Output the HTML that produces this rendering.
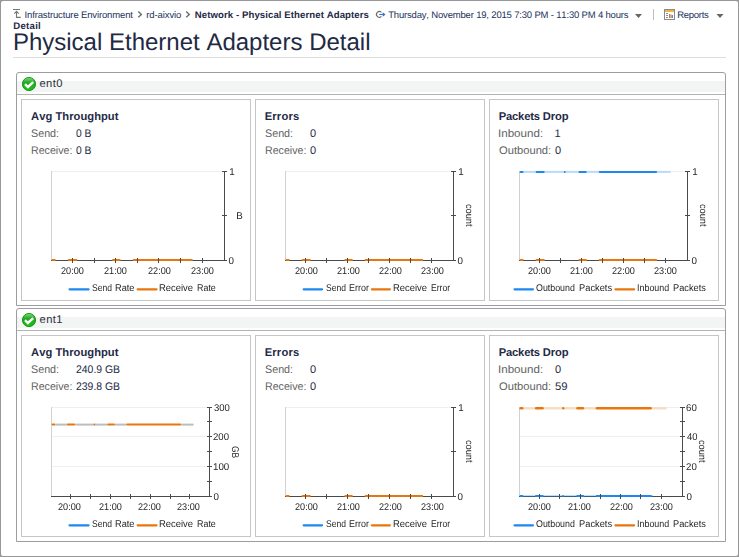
<!DOCTYPE html>
<html><head><meta charset="utf-8"><style>
html,body{margin:0;padding:0;}
body{width:739px;height:557px;background:#979797;overflow:hidden;position:relative;font-family:"Liberation Sans",sans-serif;font-kerning:none;text-rendering:geometricPrecision;}
.pg{position:absolute;left:1px;top:1px;width:737px;height:555px;background:#fff;border-radius:2px;}
.t{position:absolute;white-space:pre;line-height:20px;}
.a{position:absolute;}
svg{position:absolute;left:0;top:0;}
.gl{position:absolute;left:0;top:0;width:739px;height:557px;will-change:transform;}
</style></head><body><div class="pg"></div>
<div class="t" style="left:24.52px;top:6px;font-size:9.50px;color:#22335a;letter-spacing:-0.140px;">Infrastructure Environment</div>
<div class="t" style="left:146.27px;top:6px;font-size:9.50px;color:#22335a;letter-spacing:-0.096px;">rd-aixvio</div>
<div class="t" style="left:194.76px;top:6px;font-size:9.60px;color:#1e2a46;font-weight:bold;letter-spacing:0.085px;">Network - Physical Ethernet Adapters</div>
<div class="t" style="left:388.19px;top:6px;font-size:9.50px;color:#22335a;letter-spacing:-0.178px;">Thursday, November 19, 2015 7:30 PM - 11:30 PM 4 hours</div>
<div class="t" style="left:677.22px;top:6px;font-size:9.50px;color:#22335a;letter-spacing:-0.274px;">Reports</div>
<div class="t" style="left:13.26px;top:17px;font-size:9.60px;color:#1e2a46;font-weight:bold;letter-spacing:0.276px;">Detail</div>
<div class="t" style="left:12.93px;top:33px;font-size:24.00px;color:#1f2a44;letter-spacing:0.002px;">Physical Ethernet Adapters Detail</div>
<div class="a" style="left:13px;top:57px;width:713px;height:1px;background:#dedede;"></div>
<div class="a" style="left:16px;top:72px;width:710px;height:234px;box-sizing:border-box;border:1px solid #9b9da3;border-radius:3px 3px 0 0;"></div>
<div class="a" style="left:17px;top:81px;width:708px;height:11px;background:#f3f4f4;"></div>
<div class="a" style="left:17px;top:94px;width:708px;height:1px;background:#b4b4b4;"></div>
<div class="t" style="left:39.52px;top:74px;font-size:11.20px;color:#2b2f3a;letter-spacing:0.372px;">ent0</div>
<div class="a" style="left:21px;top:99px;width:230px;height:202px;box-sizing:border-box;border:1px solid #c6c6c6;"></div>
<div class="a" style="left:255px;top:99px;width:230px;height:202px;box-sizing:border-box;border:1px solid #c6c6c6;"></div>
<div class="a" style="left:489px;top:99px;width:230px;height:202px;box-sizing:border-box;border:1px solid #c6c6c6;"></div>
<div class="a" style="left:16px;top:308px;width:710px;height:234px;box-sizing:border-box;border:1px solid #9b9da3;border-radius:3px 3px 0 0;"></div>
<div class="a" style="left:17px;top:317px;width:708px;height:11px;background:#f3f4f4;"></div>
<div class="a" style="left:17px;top:330px;width:708px;height:1px;background:#b4b4b4;"></div>
<div class="t" style="left:39.52px;top:310px;font-size:11.20px;color:#2b2f3a;letter-spacing:0.408px;">ent1</div>
<div class="a" style="left:21px;top:335px;width:230px;height:202px;box-sizing:border-box;border:1px solid #c6c6c6;"></div>
<div class="a" style="left:255px;top:335px;width:230px;height:202px;box-sizing:border-box;border:1px solid #c6c6c6;"></div>
<div class="a" style="left:489px;top:335px;width:230px;height:202px;box-sizing:border-box;border:1px solid #c6c6c6;"></div>
<div class="t" style="left:31.12px;top:107px;font-size:11.20px;color:#1e2a46;font-weight:bold;letter-spacing:0.025px;">Avg Throughput</div>
<div class="t" style="left:30.91px;top:124px;font-size:11.00px;color:#626262;transform:scaleX(0.9764);transform-origin:0 0;">Send:</div>
<div class="t" style="left:75.80px;top:124px;font-size:11.00px;color:#1e2a46;transform:scaleX(0.9354);transform-origin:0 0;">0 B</div>
<div class="t" style="left:30.53px;top:141px;font-size:11.00px;color:#626262;transform:scaleX(0.9684);transform-origin:0 0;">Receive:</div>
<div class="t" style="left:75.80px;top:141px;font-size:11.00px;color:#1e2a46;transform:scaleX(0.9354);transform-origin:0 0;">0 B</div>
<div class="t" style="left:264.65px;top:107px;font-size:11.20px;color:#1e2a46;font-weight:bold;letter-spacing:0.198px;">Errors</div>
<div class="t" style="left:264.91px;top:124px;font-size:11.00px;color:#626262;transform:scaleX(0.9764);transform-origin:0 0;">Send:</div>
<div class="t" style="left:309.97px;top:124px;font-size:11.00px;color:#1e2a46;">0</div>
<div class="t" style="left:264.53px;top:141px;font-size:11.00px;color:#626262;transform:scaleX(0.9684);transform-origin:0 0;">Receive:</div>
<div class="t" style="left:309.97px;top:141px;font-size:11.00px;color:#1e2a46;">0</div>
<div class="t" style="left:498.65px;top:107px;font-size:11.20px;color:#1e2a46;font-weight:bold;letter-spacing:-0.152px;">Packets Drop</div>
<div class="t" style="left:498.33px;top:124px;font-size:11.00px;color:#626262;transform:scaleX(1.0540);transform-origin:0 0;">Inbound:</div>
<div class="t" style="left:554.56px;top:124px;font-size:11.00px;color:#1e2a46;">1</div>
<div class="t" style="left:498.87px;top:141px;font-size:11.00px;color:#626262;transform:scaleX(1.0151);transform-origin:0 0;">Outbound:</div>
<div class="t" style="left:554.97px;top:141px;font-size:11.00px;color:#1e2a46;">0</div>
<div class="t" style="left:31.12px;top:343px;font-size:11.20px;color:#1e2a46;font-weight:bold;letter-spacing:0.025px;">Avg Throughput</div>
<div class="t" style="left:30.91px;top:360px;font-size:11.00px;color:#626262;transform:scaleX(0.9764);transform-origin:0 0;">Send:</div>
<div class="t" style="left:75.58px;top:360px;font-size:11.00px;color:#1e2a46;transform:scaleX(0.9483);transform-origin:0 0;">240.9 GB</div>
<div class="t" style="left:30.53px;top:377px;font-size:11.00px;color:#626262;transform:scaleX(0.9684);transform-origin:0 0;">Receive:</div>
<div class="t" style="left:75.58px;top:377px;font-size:11.00px;color:#1e2a46;transform:scaleX(0.9483);transform-origin:0 0;">239.8 GB</div>
<div class="t" style="left:264.65px;top:343px;font-size:11.20px;color:#1e2a46;font-weight:bold;letter-spacing:0.198px;">Errors</div>
<div class="t" style="left:264.91px;top:360px;font-size:11.00px;color:#626262;transform:scaleX(0.9764);transform-origin:0 0;">Send:</div>
<div class="t" style="left:309.97px;top:360px;font-size:11.00px;color:#1e2a46;">0</div>
<div class="t" style="left:264.53px;top:377px;font-size:11.00px;color:#626262;transform:scaleX(0.9684);transform-origin:0 0;">Receive:</div>
<div class="t" style="left:309.97px;top:377px;font-size:11.00px;color:#1e2a46;">0</div>
<div class="t" style="left:498.65px;top:343px;font-size:11.20px;color:#1e2a46;font-weight:bold;letter-spacing:-0.152px;">Packets Drop</div>
<div class="t" style="left:498.33px;top:360px;font-size:11.00px;color:#626262;transform:scaleX(1.0540);transform-origin:0 0;">Inbound:</div>
<div class="t" style="left:554.97px;top:360px;font-size:11.00px;color:#1e2a46;">0</div>
<div class="t" style="left:498.87px;top:377px;font-size:11.00px;color:#626262;transform:scaleX(1.0151);transform-origin:0 0;">Outbound:</div>
<div class="t" style="left:554.95px;top:377px;font-size:11.00px;color:#1e2a46;transform:scaleX(1.0289);transform-origin:0 0;">59</div>
<div class="gl"><div class="t" style="left:60.59px;top:262px;font-size:9.80px;color:#262626;transform:scaleX(0.9303);transform-origin:0 0;">20:00</div>
<div class="t" style="left:104.34px;top:262px;font-size:9.80px;color:#262626;transform:scaleX(0.9303);transform-origin:0 0;">21:00</div>
<div class="t" style="left:147.64px;top:262px;font-size:9.80px;color:#262626;transform:scaleX(0.9303);transform-origin:0 0;">22:00</div>
<div class="t" style="left:190.54px;top:262px;font-size:9.80px;color:#262626;transform:scaleX(0.9303);transform-origin:0 0;">23:00</div>
<div class="t" style="left:229.25px;top:163px;font-size:9.80px;color:#262626;">1</div>
<div class="t" style="left:228.52px;top:252px;font-size:9.80px;color:#262626;">0</div>
<div class="t" style="left:236.20px;top:207px;font-size:9.80px;color:#262626;">B</div>
<div class="t" style="left:91.51px;top:279px;font-size:9.80px;color:#262626;transform:scaleX(0.8711);transform-origin:0 0;">Send</div>
<div class="t" style="left:114.94px;top:279px;font-size:9.80px;color:#262626;transform:scaleX(0.9403);transform-origin:0 0;">Rate</div>
<div class="t" style="left:159.13px;top:279px;font-size:9.80px;color:#262626;transform:scaleX(0.9629);transform-origin:0 0;">Receive</div>
<div class="t" style="left:197.27px;top:279px;font-size:9.80px;color:#262626;transform:scaleX(0.9095);transform-origin:0 0;">Rate</div>
<div class="t" style="left:294.74px;top:262px;font-size:9.80px;color:#262626;transform:scaleX(0.9303);transform-origin:0 0;">20:00</div>
<div class="t" style="left:336.54px;top:262px;font-size:9.80px;color:#262626;transform:scaleX(0.9303);transform-origin:0 0;">21:00</div>
<div class="t" style="left:378.64px;top:262px;font-size:9.80px;color:#262626;transform:scaleX(0.9303);transform-origin:0 0;">22:00</div>
<div class="t" style="left:420.54px;top:262px;font-size:9.80px;color:#262626;transform:scaleX(0.9303);transform-origin:0 0;">23:00</div>
<div class="t" style="left:458.25px;top:163px;font-size:9.80px;color:#262626;">1</div>
<div class="t" style="left:457.52px;top:252px;font-size:9.80px;color:#262626;">0</div>
<div class="t" style="left:477.80px;top:203.61px;font-size:9.80px;color:#262626;transform:rotate(90deg) scaleX(0.9367);transform-origin:0 0;">count</div>
<div class="t" style="left:325.51px;top:279px;font-size:9.80px;color:#262626;transform:scaleX(0.8711);transform-origin:0 0;">Send</div>
<div class="t" style="left:348.97px;top:279px;font-size:9.80px;color:#262626;transform:scaleX(0.9130);transform-origin:0 0;">Error</div>
<div class="t" style="left:393.13px;top:279px;font-size:9.80px;color:#262626;transform:scaleX(0.9629);transform-origin:0 0;">Receive</div>
<div class="t" style="left:431.30px;top:279px;font-size:9.80px;color:#262626;transform:scaleX(0.8746);transform-origin:0 0;">Error</div>
<div class="t" style="left:528.34px;top:262px;font-size:9.80px;color:#262626;transform:scaleX(0.9303);transform-origin:0 0;">20:00</div>
<div class="t" style="left:570.44px;top:262px;font-size:9.80px;color:#262626;transform:scaleX(0.9303);transform-origin:0 0;">21:00</div>
<div class="t" style="left:612.24px;top:262px;font-size:9.80px;color:#262626;transform:scaleX(0.9303);transform-origin:0 0;">22:00</div>
<div class="t" style="left:654.24px;top:262px;font-size:9.80px;color:#262626;transform:scaleX(0.9303);transform-origin:0 0;">23:00</div>
<div class="t" style="left:692.25px;top:163px;font-size:9.80px;color:#262626;">1</div>
<div class="t" style="left:691.52px;top:252px;font-size:9.80px;color:#262626;">0</div>
<div class="t" style="left:711.60px;top:203.61px;font-size:9.80px;color:#262626;transform:rotate(90deg) scaleX(0.9367);transform-origin:0 0;">count</div>
<div class="t" style="left:536.38px;top:279px;font-size:9.80px;color:#262626;transform:scaleX(0.9034);transform-origin:0 0;">Outbound</div>
<div class="t" style="left:579.04px;top:279px;font-size:9.80px;color:#262626;transform:scaleX(0.9495);transform-origin:0 0;">Packets</div>
<div class="t" style="left:637.08px;top:279px;font-size:9.80px;color:#262626;transform:scaleX(0.9089);transform-origin:0 0;">Inbound</div>
<div class="t" style="left:673.14px;top:279px;font-size:9.80px;color:#262626;transform:scaleX(0.9436);transform-origin:0 0;">Packets</div>
<div class="t" style="left:58.44px;top:498px;font-size:9.80px;color:#262626;transform:scaleX(0.9303);transform-origin:0 0;">20:00</div>
<div class="t" style="left:98.74px;top:498px;font-size:9.80px;color:#262626;transform:scaleX(0.9303);transform-origin:0 0;">21:00</div>
<div class="t" style="left:137.94px;top:498px;font-size:9.80px;color:#262626;transform:scaleX(0.9303);transform-origin:0 0;">22:00</div>
<div class="t" style="left:177.44px;top:498px;font-size:9.80px;color:#262626;transform:scaleX(0.9303);transform-origin:0 0;">23:00</div>
<div class="t" style="left:213.54px;top:399px;font-size:9.80px;color:#262626;transform:scaleX(0.9715);transform-origin:0 0;">300</div>
<div class="t" style="left:213.42px;top:428px;font-size:9.80px;color:#262626;transform:scaleX(0.9790);transform-origin:0 0;">200</div>
<div class="t" style="left:213.16px;top:458px;font-size:9.80px;color:#262626;transform:scaleX(0.9953);transform-origin:0 0;">100</div>
<div class="t" style="left:213.52px;top:488px;font-size:9.80px;color:#262626;">0</div>
<div class="t" style="left:244.00px;top:445.58px;font-size:9.80px;color:#262626;transform:rotate(90deg) scaleX(0.8593);transform-origin:0 0;">GB</div>
<div class="t" style="left:91.51px;top:515px;font-size:9.80px;color:#262626;transform:scaleX(0.8711);transform-origin:0 0;">Send</div>
<div class="t" style="left:114.94px;top:515px;font-size:9.80px;color:#262626;transform:scaleX(0.9403);transform-origin:0 0;">Rate</div>
<div class="t" style="left:159.13px;top:515px;font-size:9.80px;color:#262626;transform:scaleX(0.9629);transform-origin:0 0;">Receive</div>
<div class="t" style="left:197.27px;top:515px;font-size:9.80px;color:#262626;transform:scaleX(0.9095);transform-origin:0 0;">Rate</div>
<div class="t" style="left:294.74px;top:498px;font-size:9.80px;color:#262626;transform:scaleX(0.9303);transform-origin:0 0;">20:00</div>
<div class="t" style="left:336.54px;top:498px;font-size:9.80px;color:#262626;transform:scaleX(0.9303);transform-origin:0 0;">21:00</div>
<div class="t" style="left:378.64px;top:498px;font-size:9.80px;color:#262626;transform:scaleX(0.9303);transform-origin:0 0;">22:00</div>
<div class="t" style="left:420.54px;top:498px;font-size:9.80px;color:#262626;transform:scaleX(0.9303);transform-origin:0 0;">23:00</div>
<div class="t" style="left:458.25px;top:399px;font-size:9.80px;color:#262626;">1</div>
<div class="t" style="left:457.52px;top:488px;font-size:9.80px;color:#262626;">0</div>
<div class="t" style="left:477.80px;top:439.61px;font-size:9.80px;color:#262626;transform:rotate(90deg) scaleX(0.9367);transform-origin:0 0;">count</div>
<div class="t" style="left:325.51px;top:515px;font-size:9.80px;color:#262626;transform:scaleX(0.8711);transform-origin:0 0;">Send</div>
<div class="t" style="left:348.97px;top:515px;font-size:9.80px;color:#262626;transform:scaleX(0.9130);transform-origin:0 0;">Error</div>
<div class="t" style="left:393.13px;top:515px;font-size:9.80px;color:#262626;transform:scaleX(0.9629);transform-origin:0 0;">Receive</div>
<div class="t" style="left:431.30px;top:515px;font-size:9.80px;color:#262626;transform:scaleX(0.8746);transform-origin:0 0;">Error</div>
<div class="t" style="left:527.54px;top:498px;font-size:9.80px;color:#262626;transform:scaleX(0.9303);transform-origin:0 0;">20:00</div>
<div class="t" style="left:568.24px;top:498px;font-size:9.80px;color:#262626;transform:scaleX(0.9303);transform-origin:0 0;">21:00</div>
<div class="t" style="left:609.94px;top:498px;font-size:9.80px;color:#262626;transform:scaleX(0.9303);transform-origin:0 0;">22:00</div>
<div class="t" style="left:649.64px;top:498px;font-size:9.80px;color:#262626;transform:scaleX(0.9303);transform-origin:0 0;">23:00</div>
<div class="t" style="left:686.41px;top:399px;font-size:9.80px;color:#262626;transform:scaleX(0.9880);transform-origin:0 0;">60</div>
<div class="t" style="left:686.68px;top:428px;font-size:9.80px;color:#262626;transform:scaleX(0.9618);transform-origin:0 0;">40</div>
<div class="t" style="left:686.41px;top:458px;font-size:9.80px;color:#262626;transform:scaleX(0.9875);transform-origin:0 0;">20</div>
<div class="t" style="left:686.52px;top:488px;font-size:9.80px;color:#262626;">0</div>
<div class="t" style="left:711.40px;top:439.61px;font-size:9.80px;color:#262626;transform:rotate(90deg) scaleX(0.9367);transform-origin:0 0;">count</div>
<div class="t" style="left:536.38px;top:515px;font-size:9.80px;color:#262626;transform:scaleX(0.9034);transform-origin:0 0;">Outbound</div>
<div class="t" style="left:579.04px;top:515px;font-size:9.80px;color:#262626;transform:scaleX(0.9495);transform-origin:0 0;">Packets</div>
<div class="t" style="left:637.08px;top:515px;font-size:9.80px;color:#262626;transform:scaleX(0.9089);transform-origin:0 0;">Inbound</div>
<div class="t" style="left:673.14px;top:515px;font-size:9.80px;color:#262626;transform:scaleX(0.9436);transform-origin:0 0;">Packets</div></div>
<svg width="739" height="557" viewBox="0 0 739 557"><defs><linearGradient id="gg" x1="0" y1="0" x2="0" y2="1"><stop offset="0" stop-color="#7edc7e"/><stop offset="0.4" stop-color="#1faa1f"/><stop offset="1" stop-color="#16c416"/></linearGradient></defs>
<path d="M13 9.5H20" stroke="#777" stroke-width="1" fill="none"/>
<path d="M14.3 13.7L16.5 11.4L18.7 13.7M16.5 11.6V17.4H20.8" stroke="#777" stroke-width="1.1" fill="none"/>
<path d="M138.3 11.5L141.4 14.4L138.3 17.3" stroke="#6a6a6a" stroke-width="1.35" fill="none"/>
<path d="M186.2 11.5L189.3 14.4L186.2 17.3" stroke="#6a6a6a" stroke-width="1.35" fill="none"/>
<path d="M381.4 12.3A2.9 2.9 0 1 0 381.4 16.5" stroke="#6a6a6a" stroke-width="1.1" fill="none"/>
<path d="M379.2 14.5H384.2M382.7 12.9L384.6 14.5L382.7 16.1" stroke="#3b73c4" stroke-width="1.2" fill="none"/>
<path d="M635.0 14H642.0 L638.5 18Z" fill="#666"/>
<path d="M716.5 14H723.5 L720.0 18Z" fill="#666"/>
<rect x="653" y="9" width="1" height="11" fill="#bdbdbd"/>
<rect x="664.5" y="9.5" width="10" height="10" fill="#fff" stroke="#8a8a8a" stroke-width="1"/>
<rect x="665" y="10" width="9" height="2" fill="#f0b43c"/>
<rect x="666" y="13" width="2" height="1" fill="#6d8fc8"/><rect x="666" y="15" width="2" height="1" fill="#6d8fc8"/><rect x="666" y="17" width="2" height="1" fill="#6d8fc8"/>
<rect x="669" y="14" width="1.5" height="4" fill="#f06a2a"/><rect x="670.5" y="14.5" width="1" height="3.5" fill="#9cc84a"/><rect x="671.5" y="15" width="1.5" height="3" fill="#5a8ad8"/>
<circle cx="29" cy="84.0" r="6.6" fill="url(#gg)" stroke="#129012" stroke-width="0.9"/>
<path d="M25 84.2 L27.9 87.0 L33.2 82.1" stroke="#fff" stroke-width="2.4" fill="none" stroke-linejoin="miter"/>
<circle cx="29" cy="320.0" r="6.6" fill="url(#gg)" stroke="#129012" stroke-width="0.9"/>
<path d="M25 320.2 L27.9 323.0 L33.2 318.1" stroke="#fff" stroke-width="2.4" fill="none" stroke-linejoin="miter"/>
<rect x="52" y="171" width="170" height="1" fill="#eef0ee"/>
<rect x="51" y="171" width="1" height="89" fill="#d2d2d2"/>
<rect x="51" y="260" width="174" height="1" fill="#4a4a4a"/>
<rect x="224" y="171" width="1" height="90" fill="#4a4a4a"/>
<line x1="52.5" y1="260.00" x2="54.8" y2="260.00" stroke="#e8760f" stroke-width="2.0" stroke-linecap="round"/>
<line x1="68.9" y1="260.00" x2="76.4" y2="260.00" stroke="#e8760f" stroke-width="2.0" stroke-linecap="round"/>
<line x1="113.0" y1="260.00" x2="119.6" y2="260.00" stroke="#e8760f" stroke-width="2.0" stroke-linecap="round"/>
<line x1="133.7" y1="260.00" x2="191.8" y2="260.00" stroke="#e8760f" stroke-width="2.0" stroke-linecap="round"/>
<rect x="72" y="258" width="1" height="5" fill="#4a4a4a"/>
<rect x="94" y="258" width="1" height="5" fill="#4a4a4a"/>
<rect x="115" y="258" width="1" height="5" fill="#4a4a4a"/>
<rect x="137" y="258" width="1" height="5" fill="#4a4a4a"/>
<rect x="158" y="258" width="1" height="5" fill="#4a4a4a"/>
<rect x="180" y="258" width="1" height="5" fill="#4a4a4a"/>
<rect x="202" y="258" width="1" height="5" fill="#4a4a4a"/>
<rect x="222" y="171" width="5" height="1" fill="#4a4a4a"/>
<rect x="222" y="215" width="5" height="1" fill="#4a4a4a"/>
<rect x="222" y="260" width="5" height="1" fill="#4a4a4a"/>
<line x1="69.5" y1="289.35" x2="88.6" y2="289.35" stroke="#1e88f0" stroke-width="2.1" stroke-linecap="round"/>
<line x1="137.6" y1="289.35" x2="156.6" y2="289.35" stroke="#e8760f" stroke-width="2.1" stroke-linecap="round"/>
<rect x="286" y="171" width="165" height="1" fill="#eef0ee"/>
<rect x="285" y="171" width="1" height="89" fill="#d2d2d2"/>
<rect x="285" y="260" width="169" height="1" fill="#4a4a4a"/>
<rect x="453" y="171" width="1" height="90" fill="#4a4a4a"/>
<line x1="286.5" y1="260.00" x2="288.7" y2="260.00" stroke="#e8760f" stroke-width="2.0" stroke-linecap="round"/>
<line x1="302.5" y1="260.00" x2="309.8" y2="260.00" stroke="#e8760f" stroke-width="2.0" stroke-linecap="round"/>
<line x1="345.4" y1="260.00" x2="351.9" y2="260.00" stroke="#e8760f" stroke-width="2.0" stroke-linecap="round"/>
<line x1="365.6" y1="260.00" x2="422.2" y2="260.00" stroke="#e8760f" stroke-width="2.0" stroke-linecap="round"/>
<rect x="305" y="258" width="1" height="5" fill="#4a4a4a"/>
<rect x="326" y="258" width="1" height="5" fill="#4a4a4a"/>
<rect x="347" y="258" width="1" height="5" fill="#4a4a4a"/>
<rect x="368" y="258" width="1" height="5" fill="#4a4a4a"/>
<rect x="389" y="258" width="1" height="5" fill="#4a4a4a"/>
<rect x="410" y="258" width="1" height="5" fill="#4a4a4a"/>
<rect x="431" y="258" width="1" height="5" fill="#4a4a4a"/>
<rect x="451" y="171" width="5" height="1" fill="#4a4a4a"/>
<rect x="451" y="215" width="5" height="1" fill="#4a4a4a"/>
<rect x="451" y="260" width="5" height="1" fill="#4a4a4a"/>
<line x1="303.6" y1="289.35" x2="322.1" y2="289.35" stroke="#1e88f0" stroke-width="2.1" stroke-linecap="round"/>
<line x1="371.8" y1="289.35" x2="389.9" y2="289.35" stroke="#e8760f" stroke-width="2.1" stroke-linecap="round"/>
<rect x="520" y="171" width="165" height="1" fill="#eef0ee"/>
<rect x="519" y="171" width="1" height="89" fill="#d2d2d2"/>
<rect x="519" y="260" width="169" height="1" fill="#4a4a4a"/>
<rect x="687" y="171" width="1" height="90" fill="#4a4a4a"/>
<rect x="523.7" y="170.9" width="11.8" height="2.0" fill="#b8dcf8"/>
<rect x="544.8" y="170.9" width="18.9" height="2.0" fill="#b8dcf8"/>
<rect x="565.0" y="170.9" width="13.5" height="2.0" fill="#b8dcf8"/>
<rect x="586.9" y="170.9" width="11.8" height="2.0" fill="#b8dcf8"/>
<rect x="657.2" y="170.9" width="13.5" height="2.0" fill="#b8dcf8"/>
<line x1="520.5" y1="171.90" x2="522.7" y2="171.90" stroke="#1e88f0" stroke-width="2.0" stroke-linecap="round"/>
<line x1="536.5" y1="171.90" x2="543.8" y2="171.90" stroke="#1e88f0" stroke-width="2.0" stroke-linecap="round"/>
<line x1="564.7" y1="171.90" x2="564.7" y2="171.90" stroke="#1e88f0" stroke-width="2.0" stroke-linecap="round"/>
<line x1="579.4" y1="171.90" x2="585.9" y2="171.90" stroke="#1e88f0" stroke-width="2.0" stroke-linecap="round"/>
<line x1="599.6" y1="171.90" x2="656.2" y2="171.90" stroke="#1e88f0" stroke-width="2.0" stroke-linecap="round"/>
<line x1="520.5" y1="260.00" x2="522.7" y2="260.00" stroke="#e8760f" stroke-width="2.0" stroke-linecap="round"/>
<line x1="536.5" y1="260.00" x2="543.8" y2="260.00" stroke="#e8760f" stroke-width="2.0" stroke-linecap="round"/>
<line x1="579.4" y1="260.00" x2="585.9" y2="260.00" stroke="#e8760f" stroke-width="2.0" stroke-linecap="round"/>
<line x1="599.6" y1="260.00" x2="656.2" y2="260.00" stroke="#e8760f" stroke-width="2.0" stroke-linecap="round"/>
<rect x="539" y="258" width="1" height="5" fill="#4a4a4a"/>
<rect x="560" y="258" width="1" height="5" fill="#4a4a4a"/>
<rect x="581" y="258" width="1" height="5" fill="#4a4a4a"/>
<rect x="602" y="258" width="1" height="5" fill="#4a4a4a"/>
<rect x="623" y="258" width="1" height="5" fill="#4a4a4a"/>
<rect x="644" y="258" width="1" height="5" fill="#4a4a4a"/>
<rect x="665" y="258" width="1" height="5" fill="#4a4a4a"/>
<rect x="685" y="171" width="5" height="1" fill="#4a4a4a"/>
<rect x="685" y="215" width="5" height="1" fill="#4a4a4a"/>
<rect x="685" y="260" width="5" height="1" fill="#4a4a4a"/>
<line x1="514.5" y1="289.35" x2="533.0" y2="289.35" stroke="#1e88f0" stroke-width="2.1" stroke-linecap="round"/>
<line x1="615.4" y1="289.35" x2="634.2" y2="289.35" stroke="#e8760f" stroke-width="2.1" stroke-linecap="round"/>
<rect x="52" y="407" width="155" height="1" fill="#eef0ee"/>
<rect x="52" y="436" width="155" height="1" fill="#eef0ee"/>
<rect x="52" y="466" width="155" height="1" fill="#eef0ee"/>
<rect x="51" y="407" width="1" height="89" fill="#d2d2d2"/>
<rect x="51" y="496" width="159" height="1" fill="#4a4a4a"/>
<rect x="209" y="407" width="1" height="90" fill="#4a4a4a"/>
<rect x="55.5" y="423.6" width="11.1" height="2.0" fill="#bdbdbd"/>
<rect x="75.3" y="423.6" width="17.9" height="2.0" fill="#bdbdbd"/>
<rect x="94.4" y="423.6" width="12.7" height="2.0" fill="#bdbdbd"/>
<rect x="115.0" y="423.6" width="11.1" height="2.0" fill="#bdbdbd"/>
<rect x="181.3" y="423.6" width="12.3" height="2.0" fill="#bdbdbd"/>
<line x1="52.5" y1="424.60" x2="54.5" y2="424.60" stroke="#e8760f" stroke-width="2.0" stroke-linecap="round"/>
<line x1="67.6" y1="424.60" x2="74.3" y2="424.60" stroke="#e8760f" stroke-width="2.0" stroke-linecap="round"/>
<line x1="94.2" y1="424.60" x2="94.2" y2="424.60" stroke="#e8760f" stroke-width="2.0" stroke-linecap="round"/>
<line x1="108.1" y1="424.60" x2="114.0" y2="424.60" stroke="#e8760f" stroke-width="2.0" stroke-linecap="round"/>
<line x1="127.1" y1="424.60" x2="180.3" y2="424.60" stroke="#e8760f" stroke-width="2.0" stroke-linecap="round"/>
<rect x="70" y="494" width="1" height="5" fill="#4a4a4a"/>
<rect x="90" y="494" width="1" height="5" fill="#4a4a4a"/>
<rect x="110" y="494" width="1" height="5" fill="#4a4a4a"/>
<rect x="130" y="494" width="1" height="5" fill="#4a4a4a"/>
<rect x="150" y="494" width="1" height="5" fill="#4a4a4a"/>
<rect x="170" y="494" width="1" height="5" fill="#4a4a4a"/>
<rect x="189" y="494" width="1" height="5" fill="#4a4a4a"/>
<rect x="207" y="407" width="5" height="1" fill="#4a4a4a"/>
<rect x="207" y="436" width="5" height="1" fill="#4a4a4a"/>
<rect x="207" y="466" width="5" height="1" fill="#4a4a4a"/>
<rect x="207" y="496" width="5" height="1" fill="#4a4a4a"/>
<rect x="207" y="421" width="5" height="1" fill="#4a4a4a"/>
<rect x="207" y="451" width="5" height="1" fill="#4a4a4a"/>
<rect x="207" y="481" width="5" height="1" fill="#4a4a4a"/>
<line x1="69.5" y1="525.35" x2="88.6" y2="525.35" stroke="#1e88f0" stroke-width="2.1" stroke-linecap="round"/>
<line x1="137.6" y1="525.35" x2="156.6" y2="525.35" stroke="#e8760f" stroke-width="2.1" stroke-linecap="round"/>
<rect x="286" y="407" width="165" height="1" fill="#eef0ee"/>
<rect x="285" y="407" width="1" height="89" fill="#d2d2d2"/>
<rect x="285" y="496" width="169" height="1" fill="#4a4a4a"/>
<rect x="453" y="407" width="1" height="90" fill="#4a4a4a"/>
<line x1="286.5" y1="496.00" x2="288.7" y2="496.00" stroke="#e8760f" stroke-width="2.0" stroke-linecap="round"/>
<line x1="302.5" y1="496.00" x2="309.8" y2="496.00" stroke="#e8760f" stroke-width="2.0" stroke-linecap="round"/>
<line x1="345.4" y1="496.00" x2="351.9" y2="496.00" stroke="#e8760f" stroke-width="2.0" stroke-linecap="round"/>
<line x1="365.6" y1="496.00" x2="422.2" y2="496.00" stroke="#e8760f" stroke-width="2.0" stroke-linecap="round"/>
<rect x="305" y="494" width="1" height="5" fill="#4a4a4a"/>
<rect x="326" y="494" width="1" height="5" fill="#4a4a4a"/>
<rect x="347" y="494" width="1" height="5" fill="#4a4a4a"/>
<rect x="368" y="494" width="1" height="5" fill="#4a4a4a"/>
<rect x="389" y="494" width="1" height="5" fill="#4a4a4a"/>
<rect x="410" y="494" width="1" height="5" fill="#4a4a4a"/>
<rect x="431" y="494" width="1" height="5" fill="#4a4a4a"/>
<rect x="451" y="407" width="5" height="1" fill="#4a4a4a"/>
<rect x="451" y="451" width="5" height="1" fill="#4a4a4a"/>
<rect x="451" y="496" width="5" height="1" fill="#4a4a4a"/>
<line x1="303.6" y1="525.35" x2="322.1" y2="525.35" stroke="#1e88f0" stroke-width="2.1" stroke-linecap="round"/>
<line x1="371.8" y1="525.35" x2="389.9" y2="525.35" stroke="#e8760f" stroke-width="2.1" stroke-linecap="round"/>
<rect x="520" y="407" width="160" height="1" fill="#eef0ee"/>
<rect x="520" y="436" width="160" height="1" fill="#eef0ee"/>
<rect x="520" y="466" width="160" height="1" fill="#eef0ee"/>
<rect x="519" y="407" width="1" height="89" fill="#d2d2d2"/>
<rect x="519" y="496" width="164" height="1" fill="#4a4a4a"/>
<rect x="682" y="407" width="1" height="90" fill="#4a4a4a"/>
<rect x="523.5" y="407.1" width="11.3" height="2.4" fill="#f8dcc0"/>
<rect x="543.8" y="407.1" width="18.2" height="2.4" fill="#f8dcc0"/>
<rect x="563.2" y="407.1" width="13.0" height="2.4" fill="#f8dcc0"/>
<rect x="584.3" y="407.1" width="11.3" height="2.4" fill="#f8dcc0"/>
<rect x="651.9" y="407.1" width="14.6" height="2.4" fill="#f8dcc0"/>
<line x1="520.7" y1="408.30" x2="522.3" y2="408.30" stroke="#e8760f" stroke-width="2.4" stroke-linecap="round"/>
<line x1="536.1" y1="408.30" x2="542.6" y2="408.30" stroke="#e8760f" stroke-width="2.4" stroke-linecap="round"/>
<line x1="563.2" y1="408.30" x2="563.2" y2="408.30" stroke="#e8760f" stroke-width="2.4" stroke-linecap="round"/>
<line x1="577.4" y1="408.30" x2="583.1" y2="408.30" stroke="#e8760f" stroke-width="2.4" stroke-linecap="round"/>
<line x1="596.8" y1="408.30" x2="650.7" y2="408.30" stroke="#e8760f" stroke-width="2.4" stroke-linecap="round"/>
<rect x="523.5" y="495.0" width="11.3" height="2.0" fill="rgba(30,136,240,0.3)"/>
<rect x="543.8" y="495.0" width="18.2" height="2.0" fill="rgba(30,136,240,0.3)"/>
<rect x="563.2" y="495.0" width="13.0" height="2.0" fill="rgba(30,136,240,0.3)"/>
<rect x="584.3" y="495.0" width="11.3" height="2.0" fill="rgba(30,136,240,0.3)"/>
<rect x="651.9" y="495.0" width="1.2" height="2.0" fill="rgba(30,136,240,0.3)"/>
<line x1="520.5" y1="496.00" x2="522.5" y2="496.00" stroke="#1e88f0" stroke-width="2.0" stroke-linecap="round"/>
<line x1="535.9" y1="496.00" x2="542.8" y2="496.00" stroke="#1e88f0" stroke-width="2.0" stroke-linecap="round"/>
<line x1="563.0" y1="496.00" x2="563.0" y2="496.00" stroke="#1e88f0" stroke-width="2.0" stroke-linecap="round"/>
<line x1="577.2" y1="496.00" x2="583.3" y2="496.00" stroke="#1e88f0" stroke-width="2.0" stroke-linecap="round"/>
<line x1="596.6" y1="496.00" x2="650.9" y2="496.00" stroke="#1e88f0" stroke-width="2.0" stroke-linecap="round"/>
<rect x="539" y="494" width="1" height="5" fill="#4a4a4a"/>
<rect x="559" y="494" width="1" height="5" fill="#4a4a4a"/>
<rect x="580" y="494" width="1" height="5" fill="#4a4a4a"/>
<rect x="600" y="494" width="1" height="5" fill="#4a4a4a"/>
<rect x="620" y="494" width="1" height="5" fill="#4a4a4a"/>
<rect x="640" y="494" width="1" height="5" fill="#4a4a4a"/>
<rect x="661" y="494" width="1" height="5" fill="#4a4a4a"/>
<rect x="680" y="407" width="5" height="1" fill="#4a4a4a"/>
<rect x="680" y="436" width="5" height="1" fill="#4a4a4a"/>
<rect x="680" y="466" width="5" height="1" fill="#4a4a4a"/>
<rect x="680" y="496" width="5" height="1" fill="#4a4a4a"/>
<rect x="680" y="421" width="5" height="1" fill="#4a4a4a"/>
<rect x="680" y="451" width="5" height="1" fill="#4a4a4a"/>
<rect x="680" y="481" width="5" height="1" fill="#4a4a4a"/>
<line x1="514.5" y1="525.35" x2="533.0" y2="525.35" stroke="#1e88f0" stroke-width="2.1" stroke-linecap="round"/>
<line x1="615.4" y1="525.35" x2="634.2" y2="525.35" stroke="#e8760f" stroke-width="2.1" stroke-linecap="round"/>
</svg>
</body></html>
